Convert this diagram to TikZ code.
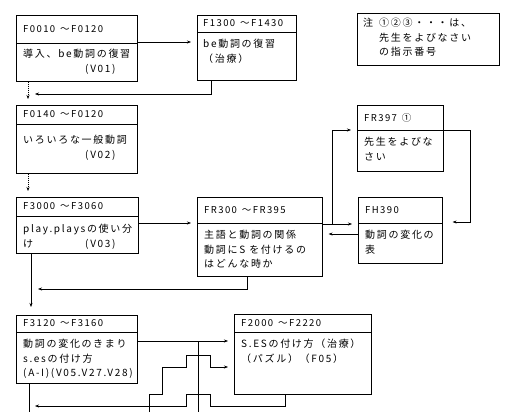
\documentclass[tikz,border=0pt]{standalone}
\usepackage{fontspec}
\newfontfamily\jpfont[LetterSpace=17]{Noto Sans CJK JP}
\newfontfamily\ttlfont[LetterSpace=15]{Noto Sans CJK JP}
\usetikzlibrary{arrows.meta,positioning}

\begin{document}
\begin{tikzpicture}[
x=1pt, y=-1pt,
box/.style={draw, line width=0.6pt, inner sep=0pt, anchor=north west},
ttl/.style={anchor=west, inner sep=0pt, font=\ttlfont\fontsize{9.5}{14}\selectfont},
txt/.style={anchor=north west, inner sep=0pt, align=left, font=\jpfont\fontsize{10}{14.5}\selectfont},
arrow/.style={-{Stealth[length=4pt,width=3pt]}, line width=0.5pt, shorten >=6pt},
link/.style={line width=0.5pt},
dots/.style={dash pattern=on 1pt off 1pt}
]
\useasboundingbox (0,0) rectangle (519,412);

% boxes
\node[box, minimum width=121pt, minimum height=66pt] (f0010) at (16,15) {};
\node[box, minimum width=99pt, minimum height=65pt] (f1300) at (197,15) {};
\node[box, minimum width=142pt, minimum height=52pt] (note) at (357,13) {};
\node[box, minimum width=121pt, minimum height=68pt] (f0140) at (16,105) {};
\node[box, minimum width=122pt, minimum height=56pt] (f3000) at (16,197) {};
\node[box, minimum width=125pt, minimum height=79pt] (fr300) at (197,197) {};
\node[box, minimum width=86pt, minimum height=66pt] (fr397) at (357,105) {};
\node[box, minimum width=84pt, minimum height=66pt] (fh390) at (358,197) {};
\node[box, minimum width=121pt, minimum height=68pt] (f3120) at (16,315) {};
\node[box, minimum width=137pt, minimum height=80pt] (f2000) at (234,314) {};

% dividers
\draw[link] (f0010.west |- 0,43) -- (f0010.east |- 0,43);
\draw[link] (f1300.west |- 0,32) -- (f1300.east |- 0,32);
\draw[link] (f0140.west |- 0,124) -- (f0140.east |- 0,124);
\draw[link] (f3000.west |- 0,216) -- (f3000.east |- 0,216);
\draw[link] (fr300.west |- 0,223) -- (fr300.east |- 0,223);
\draw[link] (fr397.west |- 0,130) -- (fr397.east |- 0,130);
\draw[link] (fh390.west |- 0,223) -- (fh390.east |- 0,223);
\draw[link] (f3120.west |- 0,332) -- (f3120.east |- 0,332);
\draw[link] (f2000.west |- 0,332) -- (f2000.east |- 0,332);

% texts
\node[ttl] (f0010t) at (23,29) {F0010\hspace{5pt}～F0120};
\node[txt] (f0010b) at (23,49) {導入、be動詞の復習\\\hspace*{62pt}(V01)};
\node[ttl] (f1300t) at (203,23.5) {F1300\hspace{5pt}～F1430};
\node[txt] (f1300b) at (203,39) {be動詞の復習\\（治療）};
\node[txt] (notet) at (363,18) {注\\};
\node[txt] (noteb) at (379,18) {①②③・・・は、\\先生をよびなさい\\の指示番号};
\node[ttl] (f0140t) at (23,114.5) {F0140\hspace{5pt}～F0120};
\node[txt] (f0140b) at (23,135) {いろいろな一般動詞\\\hspace*{62pt}(V02)};
\node[ttl] (f3000t) at (23,206.5) {F3000\hspace{5pt}～F3060};
\node[txt] (f3000b) at (23,224) {play.playsの使い分\\け\hspace*{52pt}(V03)};
\node[ttl] (fr300t) at (204,210) {FR300\hspace{5pt}～FR395};
\node[txt] (fr300b) at (204,230) {主語と動詞の関係\\動詞にS\hspace{4pt}を付けるの\\はどんな時か};
\node[ttl] (fr397t) at (364,117.5) {FR397\hspace{5pt}①};
\node[txt] (fr397b) at (364,137) {先生をよびな\\さい};
\node[ttl] (fh390t) at (365,210) {FH390};
\node[txt] (fh390b) at (365,230) {動詞の変化の\\表};
\node[ttl] (f3120t) at (23,323.5) {F3120\hspace{5pt}～F3160};
\node[txt] (f3120b) at (23,339) {動詞の変化のきまり\\s.esの付け方\\(A-I)(V05.V27.V28)};
\node[ttl] (f2000t) at (241,323) {F2000\hspace{5pt}～F2220};
\node[txt] (f2000b) at (241,339) {S.ESの付け方（治療）\\（パズル）（F05）};

% connectors
\coordinate (j1) at (29,94);
\coordinate (j2) at (32,289);
\coordinate (fork) at (332,224);
\coordinate (j3) at (198,341);
\coordinate (s1) at (149,412);
\coordinate (j4) at (29,406);

\draw[arrow] (f0010.east |- 0,42) -- (f1300.west |- 0,42);
\draw[arrow] (f1300.south -| 211,0) |- (j1);
\draw[arrow, dots] (f0010.south -| 28,0) -- (f0140.north -| 28,0);
\draw[arrow, dots] (f0140.south -| 28,0) -- (f3000.north -| 28,0);
\draw[arrow, shorten >=8pt] (f3000.south -| 31,0) -- (f3120.north -| 31,0);
\draw[arrow] (f3000.east |- 0,223) -- (fr300.west |- 0,223);
\draw[arrow] (fr300.south -| 247,0) |- (j2);
\draw[arrow] (fr300.east |- 0,224) -- (fh390.west |- 0,224);
\draw[arrow] (fork) |- (fr397.west |- 0,130);
\draw[arrow] (fh390.west |- 0,234) -- (fr300.east |- 0,234);
\draw[arrow, shorten >=10pt] (fr397.east |- 0,130) -- (470,130) |- (fh390.east |- 0,222);
\draw[arrow] (f3120.east |- 0,341) -- (f2000.west |- 0,341);
\draw[link] (j3) -- (198,412);
\draw[arrow] (s1) |- (162,394) |- (186,367) |- (210,355) |- (f2000.west |- 0,367);
\draw[arrow] (f2000.south -| 285,0) |- (210,406) |- (186,394) |- (j4);
\draw[link] (f3120.south -| 29,0) -- (29,412);
\end{tikzpicture}
\end{document}
